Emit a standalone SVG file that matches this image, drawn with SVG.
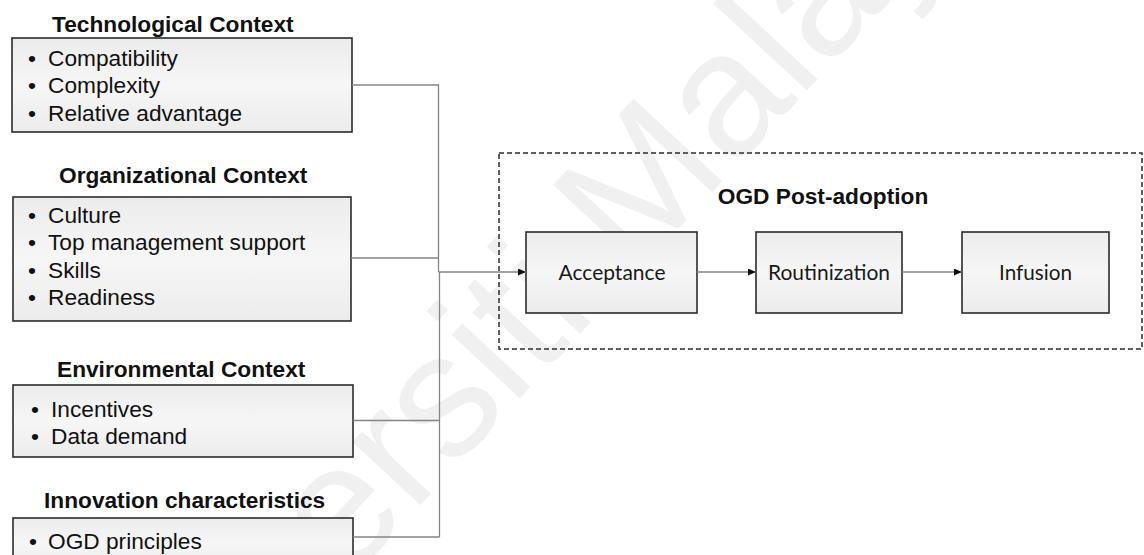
<svg xmlns="http://www.w3.org/2000/svg" width="1144" height="555" viewBox="0 0 1144 555">
  <style>
    .title { font: bold 22.7px "Liberation Sans", Arial, sans-serif; fill: #111; }
    .item { font: 22.7px "Liberation Sans", Arial, sans-serif; fill: #111; }
    .box { fill: url(#boxFill); stroke: #2b2b2b; stroke-width: 1.6; }
    .stage-text { font: 21px Lato, "Open Sans", sans-serif; fill: #1a1a1a; text-anchor: middle; }
    .wire { fill: none; stroke: #858585; stroke-width: 1.3; }
    .frame { fill: none; stroke: #2b2b2b; stroke-width: 1.5; stroke-dasharray: 5 3; }
    .mark { font: 176px "Liberation Sans", Arial, sans-serif; fill: #f0f0f0; }
  </style>
  <defs>
    <linearGradient id="boxFill" x1="0" y1="0" x2="0" y2="1">
      <stop offset="0" stop-color="#ececec"/>
      <stop offset="0.5" stop-color="#f6f6f6"/>
      <stop offset="1" stop-color="#ececec"/>
    </linearGradient>
    <marker id="arrow" markerWidth="8" markerHeight="7" refX="8" refY="3.5" orient="auto" markerUnits="userSpaceOnUse">
      <path d="M0,0 L8,3.5 L0,7 z" fill="#111"/>
    </marker>
  </defs>

  <rect width="1144" height="555" fill="#fff"/>

  <!-- faint diagonal watermark -->
  <text class="mark" transform="translate(105,843) rotate(-47)">Universiti Malaya</text>

  <!-- context blocks -->
  <g id="technological">
    <text class="title" x="52" y="32">Technological Context</text>
    <rect class="box" x="12" y="38" width="340" height="94"/>
    <text class="item" x="28" y="66">•</text><text class="item" x="48" y="66">Compatibility</text>
    <text class="item" x="28" y="93">•</text><text class="item" x="48" y="93">Complexity</text>
    <text class="item" x="28" y="121">•</text><text class="item" x="48" y="121">Relative advantage</text>
  </g>

  <g id="organizational">
    <text class="title" x="59" y="183">Organizational Context</text>
    <rect class="box" x="13" y="197" width="338" height="124"/>
    <text class="item" x="28" y="223">•</text><text class="item" x="48" y="223">Culture</text>
    <text class="item" x="28" y="250">•</text><text class="item" x="48" y="250">Top management support</text>
    <text class="item" x="28" y="278">•</text><text class="item" x="48" y="278">Skills</text>
    <text class="item" x="28" y="305">•</text><text class="item" x="48" y="305">Readiness</text>
  </g>

  <g id="environmental">
    <text class="title" x="57" y="377">Environmental Context</text>
    <rect class="box" x="13" y="385" width="340" height="72"/>
    <text class="item" x="31" y="417">•</text><text class="item" x="51" y="417">Incentives</text>
    <text class="item" x="31" y="444">•</text><text class="item" x="51" y="444">Data demand</text>
  </g>

  <g id="innovation">
    <text class="title" x="44" y="508">Innovation characteristics</text>
    <rect class="box" x="13" y="518" width="340" height="50"/>
    <text class="item" x="29" y="549">•</text><text class="item" x="48" y="549">OGD principles</text>
  </g>

  <!-- post-adoption stages -->
  <g id="post-adoption">
    <rect class="frame" x="499" y="153" width="643" height="196"/>
    <text class="title" x="823" y="204" text-anchor="middle">OGD Post-adoption</text>
  </g>

  <g id="acceptance">
    <rect class="box" x="526" y="232" width="171" height="81"/>
    <text class="stage-text" x="612" y="280" textLength="107" lengthAdjust="spacingAndGlyphs">Acceptance</text>
  </g>

  <g id="routinization">
    <rect class="box" x="756" y="232" width="146" height="81"/>
    <text class="stage-text" x="829" y="280" textLength="122" lengthAdjust="spacingAndGlyphs">Routinization</text>
  </g>

  <g id="infusion">
    <rect class="box" x="962" y="232" width="147" height="81"/>
    <text class="stage-text" x="1035.5" y="280" textLength="73" lengthAdjust="spacingAndGlyphs">Infusion</text>
  </g>

  <!-- connectors -->
  <g id="connectors">
    <path class="wire" d="M352,85 H438.5 V272"/>
    <path class="wire" d="M351,258 H438.5"/>
    <path class="wire" d="M439.5,272 V537"/>
    <path class="wire" d="M353,420.5 H439.5"/>
    <path class="wire" d="M353,537 H439.5"/>
    <path class="wire" d="M438.5,272 H526" marker-end="url(#arrow)"/>
    <path class="wire" d="M697,272 H756" marker-end="url(#arrow)"/>
    <path class="wire" d="M902,272 H962" marker-end="url(#arrow)"/>
  </g>
</svg>
